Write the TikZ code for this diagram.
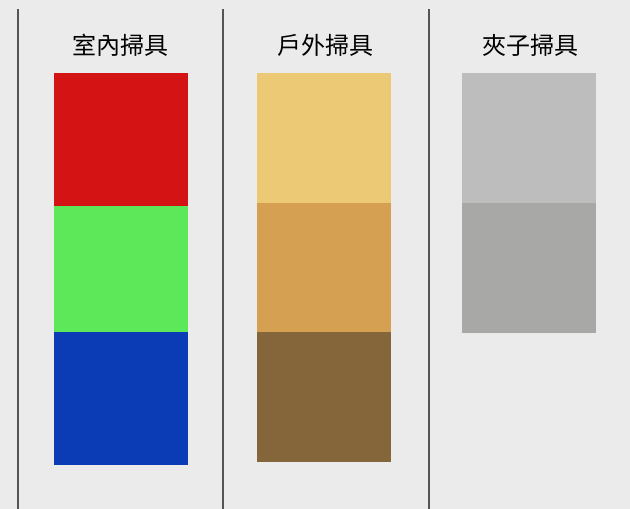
\documentclass[tikz,border=0pt]{standalone}
\usepackage{fontspec}
\newfontfamily\cjk{Noto Sans CJK TC}
\usetikzlibrary{positioning}
\definecolor{bg}{HTML}{EBEBEB}
\definecolor{sep}{HTML}{555555}
\definecolor{inA}{HTML}{D41414}
\definecolor{inB}{HTML}{5DE85A}
\definecolor{inC}{HTML}{0B3BB5}
\definecolor{outA}{HTML}{ECC975}
\definecolor{outB}{HTML}{D6A052}
\definecolor{outC}{HTML}{85663B}
\definecolor{clipA}{HTML}{BDBDBD}
\definecolor{clipB}{HTML}{A8A8A7}

\begin{document}
\begin{tikzpicture}[x=1pt,y=-1pt,
title/.style={font=\cjk\fontsize{24}{27}\selectfont,text=black,inner sep=0pt},
block/.style={draw=none,inner sep=0pt,outer sep=0pt,minimum width=134pt},
rule/.style={draw=sep,line width=2pt}]
\fill[bg] (0,0) rectangle (630,509);
\useasboundingbox (0,0) rectangle (630,509);
% separators
\draw[rule] (18,9)--(18,509);
\draw[rule] (222.5,9)--(222.5,509);
\draw[rule] (428.5,9)--(428.5,509);
% indoor
\node[title] (indoor) at (120,45) {室內掃具};
\node[block,fill=inA,minimum height=133pt,anchor=north] (inred) at (121,73) {};
\node[block,fill=inB,minimum height=126pt,below=0pt of inred] (ingreen) {};
\node[block,fill=inC,minimum height=133pt,below=0pt of ingreen] (inblue) {};
% outdoor
\node[title] (outdoor) at (325,45) {戶外掃具};
\node[block,fill=outA,minimum height=130pt,anchor=north] (outlight) at (324,73) {};
\node[block,fill=outB,minimum height=129pt,below=0pt of outlight] (outmid) {};
\node[block,fill=outC,minimum height=130pt,below=0pt of outmid] (outdark) {};
% clips
\node[title] (clips) at (530,45) {夾子掃具};
\node[block,fill=clipA,minimum height=130pt,anchor=north] (cliplight) at (529,73) {};
\node[block,fill=clipB,minimum height=130pt,below=0pt of cliplight] (clipdark) {};
\end{tikzpicture}
\end{document}
